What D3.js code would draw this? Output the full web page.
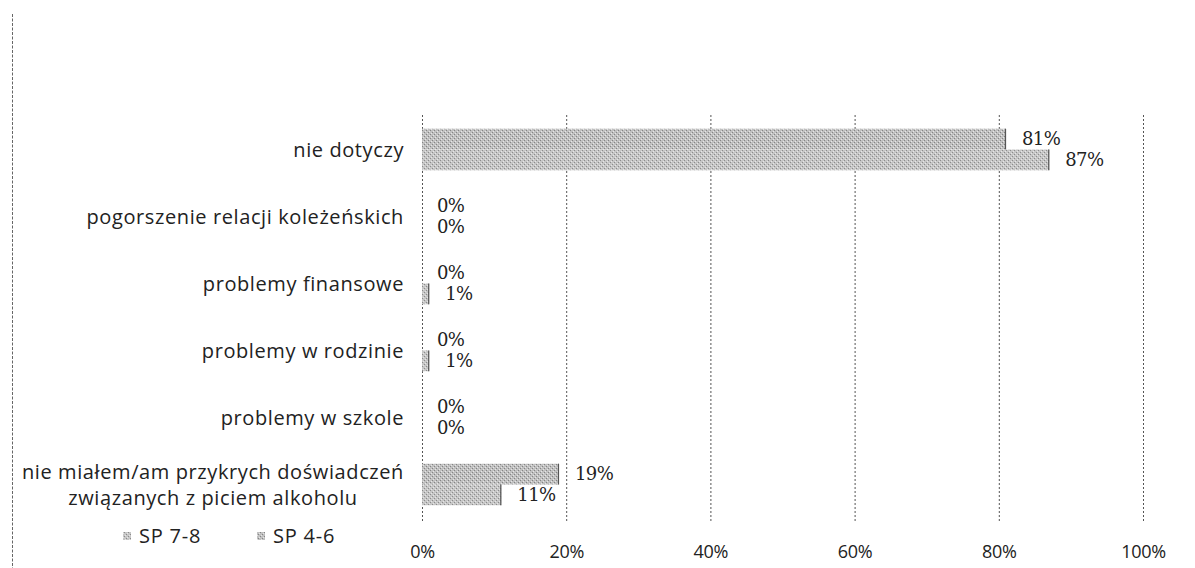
<!DOCTYPE html>
<html><head><meta charset="utf-8">
<script src="https://cdn.jsdelivr.net/npm/d3@7"></script>
<style>body{margin:0;background:#fff}svg{display:block}</style>
</head><body>
<svg id="c" width="1195" height="568"></svg>
<script>
const categories = ["nie dotyczy","pogorszenie relacji koleżeńskich","problemy finansowe","problemy w rodzinie","problemy w szkole","nie miałem/am przykrych doświadczeń|związanych z piciem alkoholu"];
const seriesNames = ["SP 7-8","SP 4-6"];
const sp46 = [81,0,0,0,0,19];
const sp78 = [87,0,1,1,0,11];
const tickValues = [0,20,40,60,80,100];
const tickLabels = ["0%","20%","40%","60%","80%","100%"];

const svg = d3.select("#c");
const defs = svg.append("defs");
function pat(id, bg, fg){
  const p = defs.append("pattern").attr("id",id).attr("patternUnits","userSpaceOnUse").attr("width",4).attr("height",4);
  p.append("rect").attr("width",4).attr("height",4).attr("fill",bg);
  p.append("rect").attr("x",0).attr("y",0).attr("width",1).attr("height",1).attr("fill",fg);
  p.append("rect").attr("x",2).attr("y",2).attr("width",1).attr("height",1).attr("fill",fg);
  p.append("rect").attr("x",1).attr("y",3).attr("width",1).attr("height",1).attr("fill","#e6e6e6");
  p.append("rect").attr("x",3).attr("y",1).attr("width",1).attr("height",1).attr("fill","#e6e6e6");
}
pat("pA","#c0c0c0","#858585");
pat("pB","#c6c6c6","#8c8c8c");

const x = d3.scaleLinear().domain([0,100]).range([422,1143]);
const y = d3.scaleBand().domain(categories).range([116,518]).paddingInner(0.38).paddingOuter(0.19);
const yS = d3.scaleBand().domain(["top","bot"]).range([0,y.bandwidth()]);

const labelFont = "'Open Sans', sans-serif";

// left frame line (scan border)
svg.append("line").attr("x1",12.5).attr("x2",12.5).attr("y1",14).attr("y2",568)
  .attr("stroke","#666").attr("stroke-width",1).attr("stroke-dasharray","3,1.5");

// gridlines via axis
const gx = svg.append("g").attr("transform","translate(0,521)")
  .call(d3.axisBottom(x).tickValues(tickValues).tickSize(-407).tickFormat((d,i)=>tickLabels[i]));
gx.select(".domain").remove();
gx.selectAll(".tick line").attr("stroke","#555").attr("stroke-width",1).attr("stroke-dasharray","2,2");
gx.selectAll(".tick text").attr("y",24).attr("font-family",labelFont).attr("font-size",18)
  .attr("letter-spacing","-0.3").attr("fill","#222");

// bars
const rows = categories.map((c,i)=>({c, top: sp46[i], bot: sp78[i]}));
const g = svg.append("g");
rows.forEach(r=>{
  [["top",r.top,"pA"],["bot",r.bot,"pB"]].forEach(([k,v,p])=>{
    const by = y(r.c)+yS(k);
    if (v>0){
      g.append("rect").attr("x",x(0)).attr("y",by).attr("width",x(v)-x(0)).attr("height",yS.bandwidth())
        .attr("fill",`url(#${p})`);
      g.append("line").attr("x1",x(v)-0.5).attr("x2",x(v)-0.5).attr("y1",by).attr("y2",by+yS.bandwidth())
        .attr("stroke","#555").attr("stroke-width",1.2);
    }
    g.append("text").attr("x",x(v)+(v===0?15:16)).attr("y",by+yS.bandwidth()/2).attr("dy","0.35em")
      .attr("font-family","'DejaVu Serif', serif").attr("font-size",18).attr("fill","#222")
      .attr("letter-spacing","-0.6").text(v+"%");
  });
});

// category labels
categories.forEach(c=>{
  const lines = c.split("|");
  const cy = y(c)+y.bandwidth()/2;
  const t = svg.append("text").attr("text-anchor","end")
    .attr("font-family",labelFont).attr("font-size",20).attr("letter-spacing","0.6").attr("fill","#222");
  const spans = lines.map((l,i)=>t.append("tspan").attr("x",404)
    .attr("y", cy + (i-(lines.length-1)/2)*26).attr("dy","0.35em").text(l));
  if (spans.length>1){
    const w = spans[0].node().getComputedTextLength();
    spans.forEach(s=>s.attr("text-anchor","middle").attr("x",404-w/2));
  }
});

// legend
const leg = [[seriesNames[0],"pB",123],[seriesNames[1],"pA",257]];
leg.forEach(([n,p,lx])=>{
  svg.append("rect").attr("x",lx).attr("y",532).attr("width",8).attr("height",8).attr("fill",`url(#${p})`);
  svg.append("text").attr("x",lx+16).attr("y",536).attr("dy","0.35em")
    .attr("font-family",labelFont).attr("font-size",20).attr("letter-spacing","0.8").attr("fill","#222").text(n);
});
</script>
</body></html>
